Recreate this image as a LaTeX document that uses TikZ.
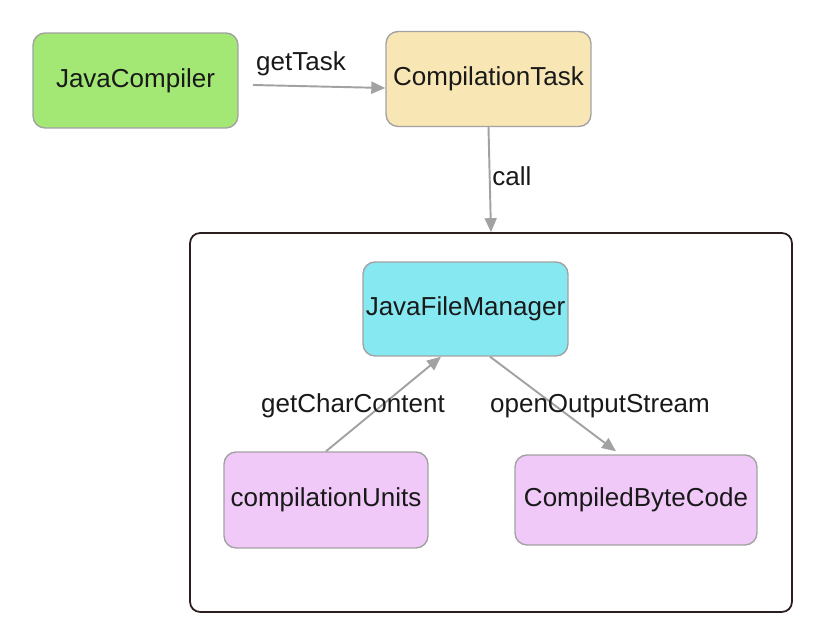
\documentclass[tikz,border=0pt]{standalone}
\usepackage{fontspec}
\setmainfont{Liberation Sans}
\usepackage{tikz}
\usetikzlibrary{arrows.meta, positioning}
\usepackage{xcolor}

\definecolor{jcgreen}{HTML}{A3E874}
\definecolor{ctyellow}{HTML}{F8E7B5}
\definecolor{fmcyan}{HTML}{86E9F2}
\definecolor{unitpink}{HTML}{F0C9F8}
\definecolor{edgegray}{HTML}{A2A2A2}
\definecolor{framedark}{HTML}{2B1E1E}

\begin{document}
\begin{tikzpicture}[
    x=0.02cm, y=-0.02cm,
    box/.style={draw=edgegray, line width=0.8pt, rounded corners=0.24cm, align=center,
      minimum width=4.1cm, minimum height=1.9cm, inner sep=0pt,
      font=\fontsize{14.8}{17}\selectfont, text=black!90},
    lbl/.style={font=\fontsize{14.8}{17}\selectfont, text=black!90, inner sep=0pt},
    >={Triangle[length=0.28cm, width=0.24cm]}
]
\useasboundingbox (0,0) rectangle (833,631);

\node (outer) [draw=framedark, line width=1pt, rounded corners=0.2cm,
  minimum width=12.04cm, minimum height=7.58cm] at (491,422.5) {};

\node (jc) [box, fill=jcgreen] at (135.5,80.5) {JavaCompiler};
\node (ct) [box, fill=ctyellow] at (488.5,79) {CompilationTask};
\node (jfm) [box, fill=fmcyan, minimum height=1.88cm] at (465.5,309) {JavaFileManager};
\node (cu) [box, fill=unitpink, minimum width=4.08cm, minimum height=1.92cm] at (326,500) {compilationUnits};
\node (cbc) [box, fill=unitpink, minimum width=4.84cm, minimum height=1.8cm] at (636,500) {CompiledByteCode};

\coordinate (gtstart) at (253,85);

\draw[->, edgegray, line width=1.1pt] (gtstart) -- ([yshift=-0.18cm]ct.west);
\draw[->, edgegray, line width=1.1pt] (ct.south) -- (outer.north);
\draw[->, edgegray, line width=1.1pt] (cu.north) -- ([xshift=-0.49cm]jfm.south);
\draw[->, edgegray, line width=1.1pt] ([xshift=0.49cm]jfm.south) -- ([xshift=-0.4cm,yshift=0.06cm]cbc.north);

\node (gt) [lbl] at (301,64) {getTask};
\node (cl) [lbl] at (512,176) {call};
\node (gcc) [lbl] at (353,406) {getCharContent};
\node (oos) [lbl] at (600,406) {openOutputStream};

\end{tikzpicture}
\end{document}
